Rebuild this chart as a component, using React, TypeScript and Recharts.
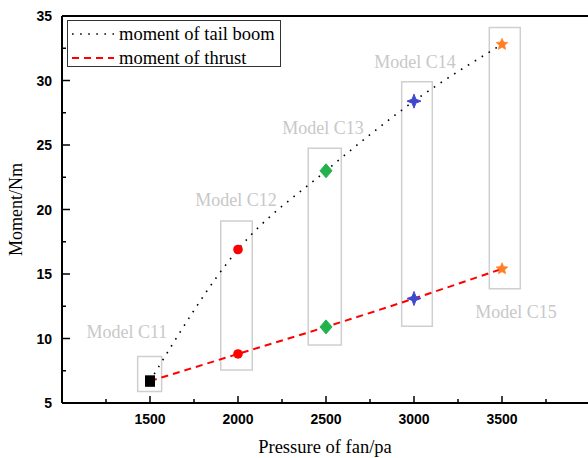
import React from 'react';
import {
  LineChart, Line, XAxis, YAxis, ReferenceArea, ReferenceDot, ReferenceLine, Legend, Label,
} from 'recharts';

const pressures = [1500, 2000, 2500, 3000, 3500];
const tailBoom = [6.7, 16.9, 23.0, 28.4, 32.8];
const thrust = [6.7, 8.8, 10.9, 13.1, 15.4];
const modelNames = ['Model C11', 'Model C12', 'Model C13', 'Model C14', 'Model C15'];
const markerShapes = ['square', 'circle', 'diamond', 'star4', 'star5'];
const markerColors = ['#000000', '#ff0000', '#22b14c', '#3f48cc', '#ff7f27'];
const labelX = [1369, 1989, 2483, 3006, 3580];
const labelY = [10.5, 20.7, 26.3, 31.45, 12.05];
const boxX1 = [1430, 1902, 2399, 2930, 3428];
const boxX2 = [1566, 2081, 2587, 3104, 3604];
const boxY1 = [5.9, 7.55, 9.5, 10.95, 13.85];
const boxY2 = [8.6, 19.1, 24.75, 29.9, 34.1];
const xTicks = [1000, 1250, 1500, 1750, 2000, 2250, 2500, 2750, 3000, 3250, 3500, 3750, 4000];
const xLabelled = [1500, 2000, 2500, 3000, 3500];
const yTicks = [5, 7.5, 10, 12.5, 15, 17.5, 20, 22.5, 25, 27.5, 30, 32.5, 35];
const yLabelled = [5, 10, 15, 20, 25, 30, 35];

const data = pressures.map((p, i) => ({ p, tail: tailBoom[i], thrust: thrust[i] }));

const SERIF = '"Liberation Serif", "Times New Roman", serif';
const SANS = '"Liberation Sans", Arial, sans-serif';

function starPoints(cx: number, cy: number, n: number, ro: number, ri: number) {
  const pts: string[] = [];
  for (let k = 0; k < n * 2; k++) {
    const r = k % 2 === 0 ? ro : ri;
    const a = -Math.PI / 2 + (k * Math.PI) / n;
    pts.push(`${cx + r * Math.cos(a)},${cy + r * Math.sin(a)}`);
  }
  return pts.join(' ');
}

function Marker(props: any) {
  const { cx, cy, index } = props;
  if (cx == null || cy == null) return <g key={`m-${index}`} />;
  const shape = markerShapes[index];
  const color = markerColors[index];
  let el: any = null;
  if (shape === 'square') el = <rect x={cx - 5} y={cy - 5.5} width={10} height={11} fill={color} />;
  else if (shape === 'circle') el = <circle cx={cx} cy={cy} r={4.8} fill={color} />;
  else if (shape === 'diamond')
    el = <polygon points={`${cx},${cy - 7} ${cx + 6},${cy} ${cx},${cy + 7} ${cx - 6},${cy}`} fill={color} stroke={color} strokeWidth={1} strokeLinejoin="round" />;
  else if (shape === 'star4') el = <polygon points={starPoints(cx, cy, 4, 7, 2.7)} fill={color} stroke={color} strokeWidth={1} />;
  else el = <polygon points={starPoints(cx, cy, 5, 6.2, 2.9)} fill={color} stroke={color} strokeWidth={0.6} />;
  return <g key={`m-${props.dataKey}-${index}`}>{el}</g>;
}

function XTick(props: any) {
  const { x, y, payload } = props;
  const v = payload.value;
  const major = v % 500 === 0;
  return (
    <g>
      <line x1={x} x2={x} y1={y} y2={y - (major ? 7 : 4)} stroke="#000" strokeWidth={1.5} />
      {xLabelled.includes(v) && (
        <text x={x} y={y + 16} textAnchor="middle" dominantBaseline="central" fontFamily={SANS} fontWeight="bold" fontSize={14} fill="#000">
          {v}
        </text>
      )}
    </g>
  );
}

function YTick(props: any) {
  const { x, y, payload } = props;
  const v = payload.value;
  const major = yLabelled.includes(v);
  return (
    <g>
      <line x1={x} x2={x + (major ? 8 : 4)} y1={y} y2={y} stroke="#000" strokeWidth={1.5} />
      {major && (
        <text x={x - 10} y={y} textAnchor="end" dominantBaseline="central" fontFamily={SANS} fontWeight="bold" fontSize={14} fill="#000">
          {v}
        </text>
      )}
    </g>
  );
}

function LegendBox() {
  return (
    <div style={{ width: 212, height: 45, border: '1px solid #333', background: '#fff', position: 'relative', fontFamily: SERIF, fontSize: 18.5, color: '#000' }}>
      <svg width={48} height={45} style={{ position: 'absolute', left: 0, top: 0 }}>
        <line x1={4} x2={46} y1={13} y2={13} stroke="#000" strokeWidth={1.6} strokeDasharray="1.6 6.5" />
        <line x1={4} x2={46} y1={37} y2={37} stroke="#ff0000" strokeWidth={2} strokeDasharray="7 5" />
      </svg>
      <div style={{ position: 'absolute', left: 51, top: 13, transform: 'translateY(-50%)', whiteSpace: 'nowrap', lineHeight: '20px' }}>moment of tail boom</div>
      <div style={{ position: 'absolute', left: 51, top: 37, transform: 'translateY(-50%)', whiteSpace: 'nowrap', lineHeight: '20px' }}>moment of thrust</div>
    </div>
  );
}

export default function App() {
  return (
    <div style={{ position: 'absolute', left: 0, top: 0, width: 588, height: 458, overflow: 'hidden', background: '#fff' }}>
      <LineChart width={600} height={458} data={data} margin={{ top: 16, right: 10, bottom: 0, left: 1 }}>
        <XAxis
          dataKey="p"
          type="number"
          domain={[1000, 4000]}
          ticks={xTicks}
          interval={0}
          height={55}
          tickSize={0}
          tickMargin={0}
          axisLine={{ stroke: '#000', strokeWidth: 2 }}
          tickLine={false}
          tick={<XTick />}
        >
          <Label
            content={(p: any) => {
              const vb = p.viewBox;
              return (
                <text x={vb.x + vb.width / 2 - 1} y={vb.y + 50} textAnchor="middle" fontFamily={SERIF} fontSize={18.5} fill="#000">
                  Pressure of fan/pa
                </text>
              );
            }}
          />
        </XAxis>
        <YAxis
          type="number"
          domain={[5, 35]}
          ticks={yTicks}
          interval={0}
          width={61}
          tickSize={0}
          tickMargin={0}
          axisLine={{ stroke: '#000', strokeWidth: 2 }}
          tickLine={false}
          tick={<YTick />}
        >
          <Label
            content={(p: any) => {
              const vb = p.viewBox;
              const cx = 16;
              const cy = vb.y + vb.height / 2;
              return (
                <text x={cx} y={cy} transform={`rotate(-90 ${cx} ${cy})`} textAnchor="middle" dominantBaseline="central" fontFamily={SERIF} fontSize={18} fill="#000">
                  Moment/Nm
                </text>
              );
            }}
          />
        </YAxis>
        <ReferenceLine y={35} stroke="#000" strokeWidth={2} ifOverflow="visible" />
        <ReferenceLine x={4000} stroke="#000" strokeWidth={2} ifOverflow="visible" />
        {pressures.map((p, i) => (
          <ReferenceArea
            key={`box-${i}`}
            x1={boxX1[i]}
            x2={boxX2[i]}
            y1={boxY1[i]}
            y2={boxY2[i]}
            fill="none"
            fillOpacity={0}
            stroke="#cfcfcf"
            strokeWidth={1.5}
            ifOverflow="visible"
          />
        ))}
        {modelNames.map((name, i) => (
          <ReferenceDot
            key={`lbl-${i}`}
            x={labelX[i]}
            y={labelY[i]}
            r={0}
            ifOverflow="visible"
            shape={(sp: any) => (
              <text x={sp.cx} y={sp.cy} textAnchor="middle" dominantBaseline="central" fontFamily={SERIF} fontSize={18} fill="#c8c8c8">
                {name}
              </text>
            )}
          />
        ))}
        <Line
          dataKey="tail"
          type="monotone"
          stroke="#000"
          strokeWidth={1.6}
          strokeDasharray="1.6 6.5"
          dot={(dp: any) => <Marker key={`t-${dp.index}`} {...dp} dataKey="tail" />}
          activeDot={false}
          isAnimationActive={false}
        />
        <Line
          dataKey="thrust"
          type="monotone"
          stroke="#ff0000"
          strokeWidth={2}
          strokeDasharray="7 5"
          dot={(dp: any) => <Marker key={`h-${dp.index}`} {...dp} dataKey="thrust" />}
          activeDot={false}
          isAnimationActive={false}
        />
        <Legend
          layout="horizontal"
          verticalAlign="middle"
          align="center"
          content={() => <LegendBox />}
          wrapperStyle={{ position: 'absolute', left: 67, top: 20, width: 'auto', height: 'auto' }}
        />
      </LineChart>
    </div>
  );
}
